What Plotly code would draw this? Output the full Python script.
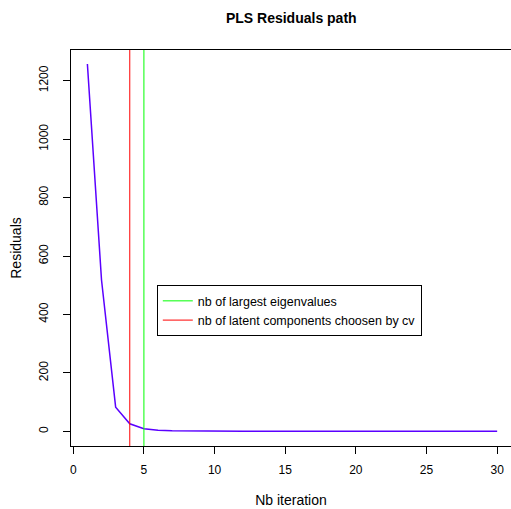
import plotly.graph_objects as go

# Residuals per PLS iteration
iterations = list(range(1, 31))
residuals = [1257, 518, 83, 26, 9, 3.5, 1.8, 1.0, 0.6, 0.4,
             0.3, 0.2, 0.15, 0.1, 0.1, 0.1, 0.1, 0.1, 0.1, 0.1,
             0.1, 0.1, 0.1, 0.1, 0.1, 0.1, 0.1, 0.1, 0.1, 0.1]
nb_eigen = 5
nb_cv = 4
x_range = [-0.16, 30.98]
y_range = [-50, 1305]

fig = go.Figure()
fig.add_trace(go.Scatter(x=iterations, y=residuals, mode="lines",
                         line=dict(color="#5a00ff", width=1.5), showlegend=False))
fig.add_trace(go.Scatter(x=[nb_eigen, nb_eigen], y=y_range, mode="lines",
                         line=dict(color="#00ff00", width=1),
                         name="nb of largest eigenvalues"))
fig.add_trace(go.Scatter(x=[nb_cv, nb_cv], y=y_range, mode="lines",
                         line=dict(color="#ff0000", width=1),
                         name="nb of latent components choosen by cv"))

fig.update_layout(
    width=511, height=509,
    margin=dict(l=71, r=0, t=50, b=63),
    paper_bgcolor="white", plot_bgcolor="white",
    font=dict(family="Liberation Sans, Arial, sans-serif", size=12, color="black"),
    title=dict(text="<b>PLS Residuals path</b>", font=dict(size=14),
               x=0.57, xanchor="center", y=0.965, yanchor="middle", yref="container"),
    legend=dict(x=0.195, y=0.406, xanchor="left", yanchor="top",
                bordercolor="black", borderwidth=1, bgcolor="white",
                font=dict(size=12.5), tracegroupgap=0),
    xaxis=dict(range=x_range, tickmode="array", tickvals=[0, 5, 10, 15, 20, 25, 30],
               showgrid=False, zeroline=False, showline=True, mirror=True,
               linecolor="black", linewidth=1, ticks="outside", ticklen=7,
               tickcolor="black", automargin=False, ticklabelstandoff=6,
               title=dict(text="Nb iteration", standoff=18)),
    yaxis=dict(range=y_range, tickmode="array", tickvals=[0, 200, 400, 600, 800, 1000, 1200],
               tickangle=-90, showgrid=False, zeroline=False, showline=True,
               linecolor="black", linewidth=1, ticks="outside", ticklen=7,
               tickcolor="black", automargin=False, ticklabelstandoff=10,
               title=dict(text="Residuals", standoff=12)),
)

# page body has a default 8px margin; drop it so the figure sits at the corner
fig.write_html("out.html", config={"displayModeBar": False},
               post_script="document.body.style.margin='0';")
